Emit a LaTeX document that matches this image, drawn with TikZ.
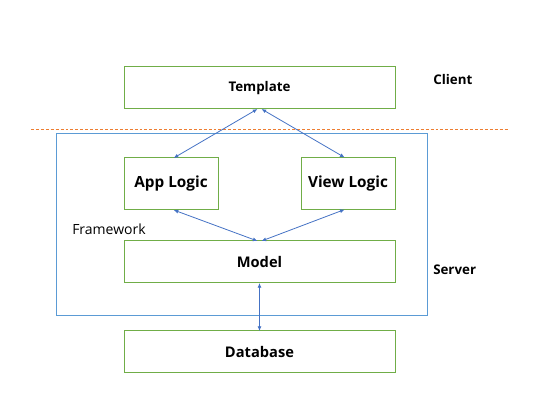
\documentclass[tikz,border=0pt]{standalone}
\usepackage{fontspec}
\setmainfont{Open Sans}
\usetikzlibrary{arrows.meta}

\definecolor{boxgreen}{HTML}{70AD47}
\definecolor{framblue}{HTML}{5B9BD5}
\definecolor{linkblue}{HTML}{4472C4}
\definecolor{sepor}{HTML}{ED7D31}

\begin{document}
\begin{tikzpicture}[
    x=0.75pt, y=-0.75pt,
    block/.style={draw=boxgreen, line width=0.75pt, inner sep=0pt, outer sep=0pt, font=\bfseries\fontsize{11}{13}\selectfont},
    wide/.style={block, minimum width=203.25pt, minimum height=31.5pt},
    small/.style={block, minimum width=70.5pt, minimum height=39pt, font=\bfseries\fontsize{11.5}{14}\selectfont},
    link/.style={{Latex[length=3.5pt,width=3pt]}-{Latex[length=3.5pt,width=3pt]}, linkblue, line width=0.6pt},
    tag/.style={font=\bfseries\fontsize{10}{12}\selectfont, anchor=west, inner sep=0pt},
]
\useasboundingbox (0,0) rectangle (544,410);

% === Server frame ===
\node[draw=framblue, line width=0.75pt, inner sep=0pt, minimum width=278.25pt, minimum height=136.5pt] (frame) at (241.5,225) {};
\node[font=\fontsize{10.5}{12}\selectfont, anchor=west, inner sep=0pt] (fw) at (72,229) {Framework};

% === Client / server separator ===
\draw[sepor, line width=0.5pt, dash pattern=on 2.2pt off 1.5pt] (31,129) coordinate (sepL) -- (508,129) coordinate (sepR);

% === Blocks ===
\node[wide, font=\bfseries\fontsize{10}{12}\selectfont] (tpl) at (259.5,88) {Template};
\node[small] (app) at (171,184) {App Logic};
\node[small] (view) at (348,183.5) {View Logic};
\node[wide] (model) at (259.5,262) {Model};
\node[wide] (db) at (259.5,352) {Database};

% === Side labels ===
\node[tag] (client) at (433,80) {Client};
\node[tag] (server) at (433,270) {Server};

% === Links ===
\draw[link] ([xshift=-1.5pt]tpl.south) -- ([xshift=2pt]app.north);
\draw[link] ([xshift=1.5pt]tpl.south) -- ([xshift=-2.5pt]view.north);
\draw[link] ([xshift=2pt]app.south) -- ([xshift=-1.5pt]model.north);
\draw[link] ([xshift=-2.5pt]view.south) -- ([xshift=1.5pt]model.north);
\draw[link] (model.south) -- (db.north);

\end{tikzpicture}
\end{document}
